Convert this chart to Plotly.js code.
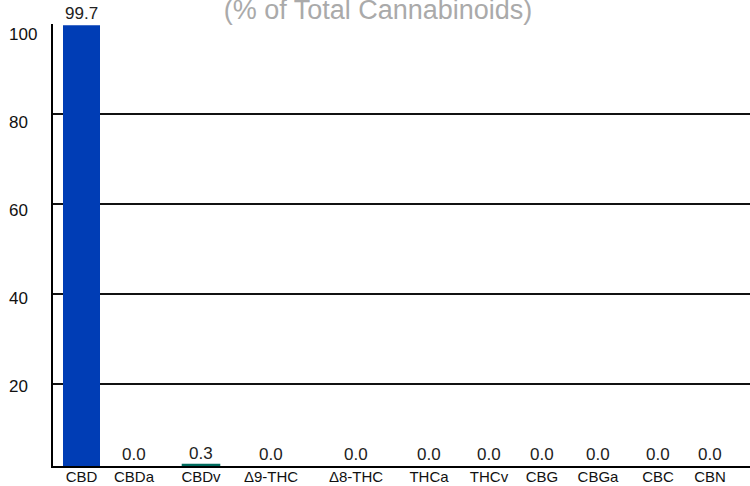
<!DOCTYPE html>
<html>
<head>
<meta charset="utf-8">
<script src="https://cdn.plot.ly/plotly-3.0.1.min.js"></script>
<style>html,body{margin:0;padding:0;background:#fff;}#chart{width:750px;height:486px;}</style>
</head>
<body>
<div id="chart"></div>
<script>
// Data
const categories = ["CBD", "CBDa", "CBDv", "\u03949-THC", "\u03948-THC", "THCa", "THCv", "CBG", "CBGa", "CBC", "CBN"];
const values = [99.7, 0.0, 0.3, 0.0, 0.0, 0.0, 0.0, 0.0, 0.0, 0.0, 0.0];
const xPositions = [28.5, 81, 148, 218, 303, 376, 436, 489, 545, 605, 657];
const yTicks = [20, 40, 60, 80, 100];
const barColors = ["#003DB5", "#7a1fa2", "#006B5E", "#c0392b", "#d35400", "#16a085", "#2980b9", "#8e44ad", "#27ae60", "#f39c12", "#2c3e50"];

const FONT = "Liberation Sans, Arial, sans-serif";

const bars = {
  type: "bar",
  x: xPositions,
  y: values,
  width: 37,
  marker: {
    color: barColors,
    line: {
      color: values.map((v, i) => v > 0 && v < 1 ? barColors[i] : "rgba(0,0,0,0)"),
      width: values.map(v => v > 0 && v < 1 ? 1.6 : 0)
    }
  },
  cliponaxis: false,
  hoverinfo: "skip"
};

// invisible helper traces so the grid axis and the label axis exist
const gridHelper = { type: "scatter", mode: "none", x: [xPositions[0]], y: [yTicks[0]], yaxis: "y2", hoverinfo: "skip", showlegend: false };
const labelHelper = { type: "scatter", mode: "none", x: [xPositions[0]], y: [yTicks[0]], yaxis: "y3", hoverinfo: "skip", showlegend: false };

const valueAnnotations = values.map((v, i) => ({
  text: v.toFixed(1),
  xref: "x", x: xPositions[i], xanchor: "center",
  yref: "y", y: v, yanchor: "bottom",
  showarrow: false,
  font: { family: FONT, size: 17, color: "#222" }
}));

const yLabelAnnotations = yTicks.map(t => ({
  text: String(t),
  xref: "paper", x: -0.066, xanchor: "left",
  yref: "y3", y: t, yanchor: "middle",
  showarrow: false,
  font: { family: FONT, size: 17, color: "#111" }
}));

const layout = {
  width: 750,
  height: 486,
  margin: { l: 53, r: 0, t: 24, b: 20, pad: 0 },
  paper_bgcolor: "#fff",
  plot_bgcolor: "#fff",
  showlegend: false,
  title: {
    text: "(% of Total Cannabinoids)",
    font: { family: FONT, size: 27, color: "#aaaaaa" },
    x: 0.504, xanchor: "center",
    yref: "container", y: 0.981, yanchor: "middle"
  },
  xaxis: {
    range: [0, 697],
    tickvals: xPositions,
    ticktext: categories,
    showgrid: false,
    zeroline: false,
    showline: true,
    linecolor: "#000",
    linewidth: 2,
    ticks: "",
    ticklabelstandoff: -4,
    tickfont: { family: FONT, size: 15, color: "#111" },
    fixedrange: true
  },
  yaxis: {
    range: [0, 100],
    showgrid: false,
    zeroline: false,
    showline: true,
    linecolor: "#000",
    linewidth: 2,
    showticklabels: false,
    ticks: "",
    fixedrange: true
  },
  yaxis2: {
    overlaying: "y",
    side: "left",
    range: [1.78, 100],
    tickvals: yTicks,
    showgrid: true,
    gridcolor: "#111",
    gridwidth: 1.6,
    zeroline: false,
    showline: false,
    showticklabels: false,
    ticks: "",
    fixedrange: true
  },
  yaxis3: {
    overlaying: "y",
    side: "left",
    range: [1.82, 102.4],
    showgrid: false,
    zeroline: false,
    showline: false,
    showticklabels: false,
    ticks: "",
    fixedrange: true
  },
  annotations: valueAnnotations.concat(yLabelAnnotations)
};

Plotly.newPlot("chart", [bars, gridHelper, labelHelper], layout, { staticPlot: true, displayModeBar: false });
</script>
</body>
</html>
